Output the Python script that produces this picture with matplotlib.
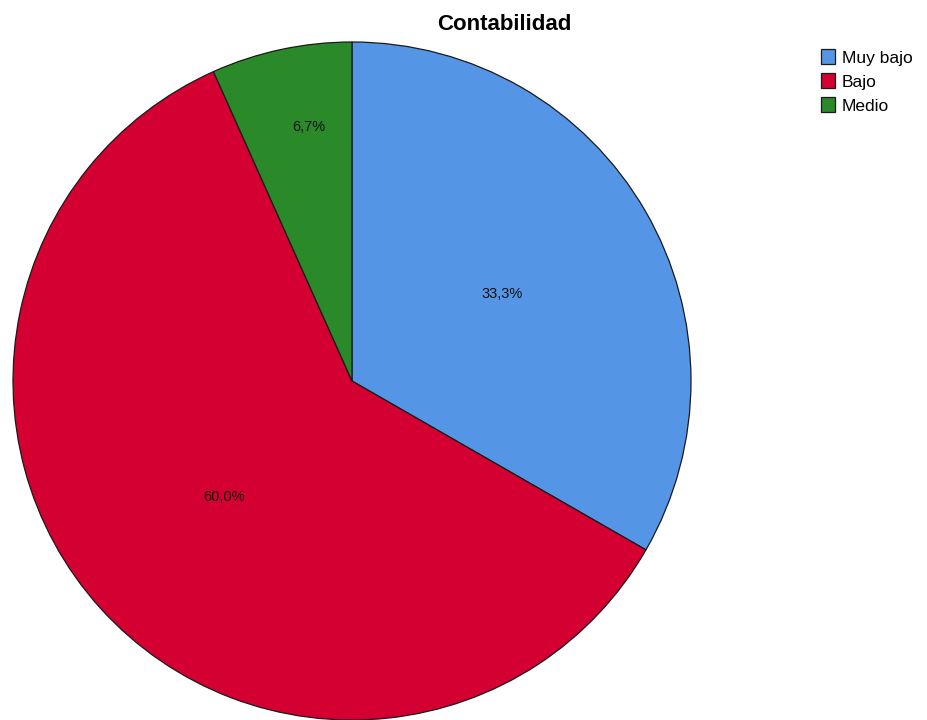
import numpy as np
import matplotlib
matplotlib.use("Agg")
import matplotlib.pyplot as plt
from matplotlib.patches import Patch

categories = ["Muy bajo", "Bajo", "Medio"]
percentages = [33.3, 60.0, 6.7]
colors = ["#5595e5", "#d30031", "#2a8a2a"]
title = "Contabilidad"

plt.rcParams["font.family"] = ["Liberation Sans", "DejaVu Sans"]

W, H = 927, 720
fig = plt.figure(figsize=(W / 100, H / 100), dpi=100)
fig.patch.set_facecolor("white")

# pie area placed in pixel terms: centre (352, 381), radius 339
cx, cy, r = 352, 381, 339
ax = fig.add_axes([(cx - r) / W, (H - cy - r) / H, 2 * r / W, 2 * r / H])
ax.axis("off")

wedges, _ = ax.pie(
    percentages,
    colors=colors,
    startangle=90,
    counterclock=False,
    radius=1,
    wedgeprops=dict(edgecolor="#1a1a1a", linewidth=0.9),
)
ax.set_xlim(-1, 1)
ax.set_ylim(-1, 1)
ax.set_aspect("auto")

# percentage labels; the narrow slice gets its label further out
for w, p in zip(wedges, percentages):
    ang = np.deg2rad((w.theta1 + w.theta2) / 2)
    if p < 10:
        ang -= np.deg2rad(2.5)
        d = 0.76
    else:
        d = 0.51
    ax.text(d * np.cos(ang), d * np.sin(ang), f"{p:.1f}%".replace(".", ","),
            ha="center", va="center", fontsize=10.5, color="#111111")

fig.text(504 / W, 1 - 24 / H, title, ha="center", va="center",
         fontsize=16, fontweight="bold")

handles = [Patch(facecolor=c, edgecolor="#1a1a1a", linewidth=0.9) for c in colors]
fig.legend(handles, categories, loc="upper left",
           bbox_to_anchor=(807 / W, 1 - 35 / H), frameon=False,
           fontsize=12.5, handlelength=0.8, handleheight=1.0,
           handletextpad=0.4, labelspacing=0.42, borderpad=0.3)

fig.savefig("out.png", dpi=100)
